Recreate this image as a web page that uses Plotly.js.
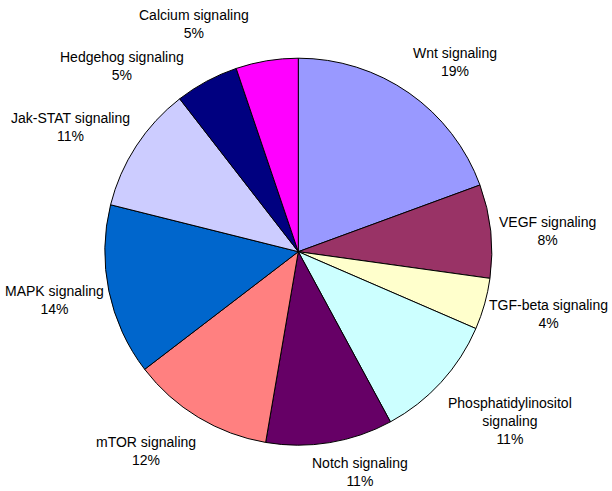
<!DOCTYPE html>
<html>
<head>
<meta charset="utf-8">
<script src="https://cdn.plot.ly/plotly-3.0.1.min.js"></script>
<style>html,body{margin:0;padding:0;background:#fff;}#chart{width:612px;height:491px;}</style>
</head>
<body>
<div id="chart"></div>
<script>
// ---- data ----
const labels = ["Wnt signaling","VEGF signaling","TGF-beta signaling","Phosphatidylinositol signaling","Notch signaling","mTOR signaling","MAPK signaling","Jak-STAT signaling","Hedgehog signaling","Calcium signaling"];
const values = [19.4, 7.8, 4.3, 10.6, 10.6, 11.9, 14.3, 10.6, 5.3, 5.2];
const colors = ["#9999FF","#993366","#FFFFCC","#CCFFFF","#660066","#FF8080","#0066CC","#CCCCFF","#000080","#FF00FF"];

// ---- layout geometry (label placement relative to each slice's mid-angle) ----
const W = 612, H = 491, cx = 298.3, cy = 251.7, R = 193.5;
const labelAngleShift = [4.7, 1.4, -1.7, -3.9, -6.4, 6.2, 0.5, -4.5, -15.4, -15.3];
const labelDistance = [246, 250, 258, 271, 229, 251, 249, 260, 256, 251];

const total = values.reduce((a, b) => a + b, 0);
const FONT = "Liberation Sans, Arial, sans-serif";

let cum = 0;
const annotations = values.map((v, i) => {
  const mid = (cum + v / 2) / total * 360;
  cum += v;
  const th = (mid + labelAngleShift[i]) * Math.PI / 180;
  const px = cx + labelDistance[i] * Math.sin(th);
  const py = cy - labelDistance[i] * Math.cos(th);
  const name = labels[i].replace("Phosphatidylinositol ", "Phosphatidylinositol<br>");
  return {
    xref: "paper", yref: "paper",
    x: px / W, y: 1 - py / H,
    xanchor: "center", yanchor: "middle",
    showarrow: false,
    align: "center",
    text: name + "<br>" + Math.round(v / total * 100) + "%",
    font: {family: FONT, size: 14, color: "#000000"}
  };
});

const trace = {
  type: "pie",
  labels: labels,
  values: values,
  sort: false,
  direction: "clockwise",
  rotation: 0,
  marker: {colors: colors, line: {color: "#000000", width: 1}},
  textinfo: "none",
  hoverinfo: "label+percent",
  automargin: false,
  domain: {x: [(cx - R) / W, (cx + R) / W], y: [(H - cy - R) / H, (H - cy + R) / H]}
};
const layout = {
  width: W, height: H,
  margin: {l: 0, r: 0, t: 0, b: 0},
  showlegend: false,
  paper_bgcolor: "#ffffff",
  font: {family: FONT, size: 14, color: "#000000"},
  annotations: annotations
};
Plotly.newPlot("chart", [trace], layout, {displayModeBar: false, staticPlot: true});
</script>
</body>
</html>
